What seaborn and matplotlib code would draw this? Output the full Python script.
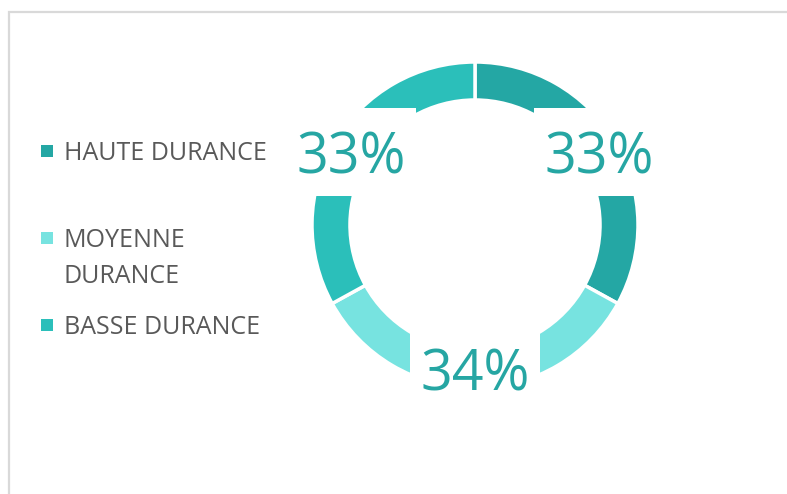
import matplotlib
matplotlib.use("Agg")
import matplotlib.pyplot as plt
from matplotlib.patches import Rectangle
import seaborn as sns

# Share of each section of the Durance
categories = ["HAUTE DURANCE", "MOYENNE\nDURANCE", "BASSE DURANCE"]
shares = [33, 34, 33]
slice_colors = ["#24A7A4", "#77E3E0", "#2BBFBA"]

sns.set_theme(style="white")
plt.rcParams["font.family"] = ["Open Sans", "DejaVu Sans"]

W, H = 787, 494
fig = plt.figure(figsize=(W / 100, H / 100), dpi=100)
fig.patch.set_facecolor("white")

# light grey chart frame (top and left edges visible)
fig.patches.append(Rectangle((9 / W, -0.1), 1.2, (H - 12) / H + 0.1,
                             transform=fig.transFigure, fill=False,
                             edgecolor="#D9D9D9", linewidth=1.6))

# donut: centre (475, 225) px, outer radius 163 px
cx, cy, r = 475, 225, 163
ax = fig.add_axes([(cx - r) / W, (H - cy - r) / H, 2 * r / W, 2 * r / H])
palette = sns.color_palette(slice_colors)
wedges, _, autotexts = ax.pie(
    shares, colors=palette, startangle=90, counterclock=False,
    autopct="%.0f%%", pctdistance=0.884,
    wedgeprops=dict(width=0.233, edgecolor="white", linewidth=2.5),
    textprops=dict(color="#26A6A3", fontsize=40, zorder=3),
)
ax.set_xlim(-1, 1)
ax.set_ylim(-1, 1)
ax.set_aspect("equal")
ax.axis("off")

# white label boxes (130 x 88 px) centred on each percentage label
fig.canvas.draw()
box_w, box_h = 130 / r, 88 / r
for t in autotexts:
    ext = t.get_window_extent().transformed(ax.transData.inverted())
    mx = (ext.x0 + ext.x1) / 2
    my = (ext.y0 + ext.y1) / 2
    ax.add_patch(Rectangle((mx - box_w / 2, my - box_h / 2), box_w, box_h,
                           facecolor="white", edgecolor="none", zorder=2))
    # centre the digits (not the descender box) inside the label box
    x, y = t.get_position()
    t.set_position((x, y - 7 / r))

# legend drawn on the left
baselines = [160, 247, 334]
line_step = 36
for name, col, base in zip(categories, palette, baselines):
    lines = name.split("\n")
    first_center = base - 9
    fig.patches.append(Rectangle((41 / W, (H - first_center - 6) / H),
                                 12 / W, 12 / H, transform=fig.transFigure,
                                 facecolor=col, edgecolor="none"))
    for i, ln in enumerate(lines):
        fig.text(64 / W, (H - base - i * line_step) / H, ln,
                 fontsize=18, color="#595959", va="baseline", ha="left")

fig.savefig("out.png", dpi=100, facecolor="white")
